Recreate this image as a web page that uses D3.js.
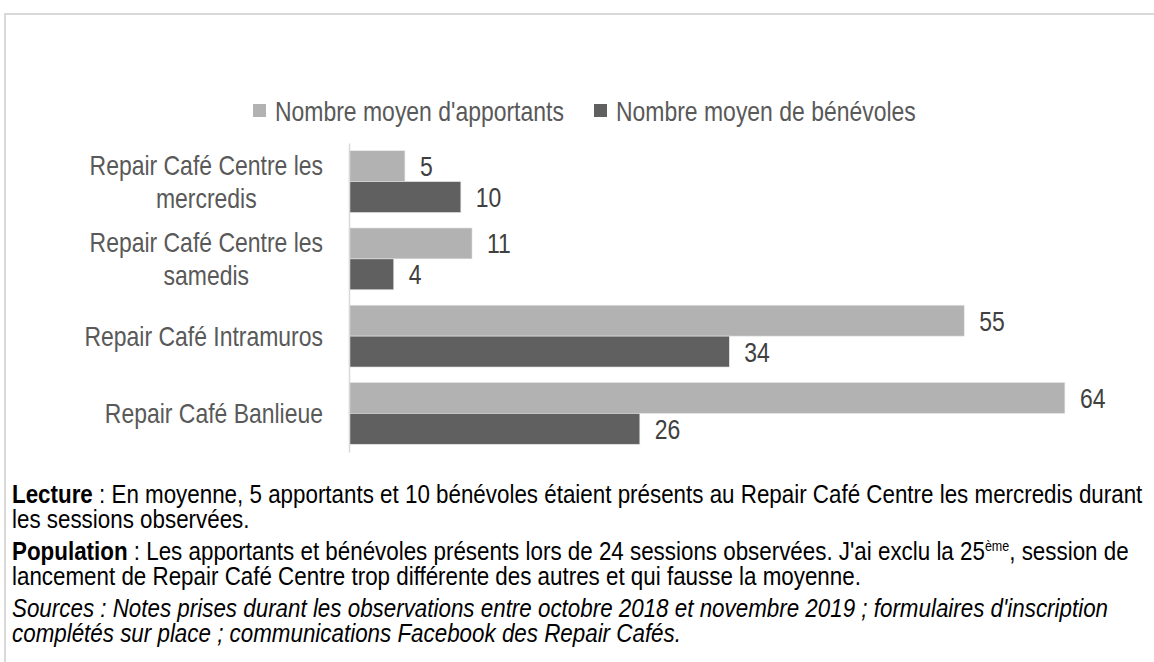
<!DOCTYPE html>
<html><head><meta charset="utf-8">
<script src="https://cdn.jsdelivr.net/npm/d3@7"></script>
<style>
html,body{margin:0;padding:0;background:#fff;}
svg{display:block;}
</style></head>
<body>
<svg id="chart" width="1154" height="662"></svg>
<script>
const categories = [
  ["Repair Café Centre les", "mercredis"],
  ["Repair Café Centre les", "samedis"],
  ["Repair Café Intramuros"],
  ["Repair Café Banlieue"]
];
const seriesNames = ["Nombre moyen d'apportants", "Nombre moyen de bénévoles"];
const apportants = [5, 11, 55, 64];
const benevoles = [10, 4, 34, 26];
const seriesColors = ["#b2b2b2", "#606060"];
const xMax = 70;

(function () {
const FONT = "'Liberation Sans',Arial,sans-serif";
const SX = 0.82;      // condensed look (Arial Narrow style)
const svg = d3.select("#chart");

function ntext(parent, px, py, sx, size, fill) {
  return parent.append("text")
    .attr("transform", `translate(${px},${py}) scale(${sx},1)`)
    .attr("font-family", FONT).attr("font-size", size).attr("fill", fill);
}

// outer frame
svg.append("rect").attr("x", 5).attr("y", 14).attr("width", 1170).attr("height", 700)
  .attr("fill", "none").attr("stroke", "#d9d9d9").attr("stroke-width", 2);

const pLeft = 349, pRight = 1132, pTop = 143, pBottom = 452;
const ids = categories.map((c, i) => i);
const y = d3.scaleBand().domain(ids).range([pTop, pBottom]).paddingInner(0.2).paddingOuter(0.1);
const y1 = d3.scaleBand().domain([0, 1]).range([0, y.bandwidth()]);
const x = d3.scaleLinear().domain([0, xMax]).range([pLeft, pRight]);

const series = [apportants, benevoles];
const g = svg.append("g");
series.forEach((vals, si) => {
  g.selectAll(".bar" + si).data(vals).enter().append("rect")
    .attr("x", x(0))
    .attr("y", (d, i) => y(i) + y1(si))
    .attr("width", d => x(d) - x(0))
    .attr("height", y1.bandwidth())
    .attr("fill", seriesColors[si])
    .attr("stroke", "#e6e6e6").attr("stroke-width", 0.6);
  vals.forEach((d, i) => {
    ntext(g, x(d) + 15, y(i) + y1(si) + y1.bandwidth() / 2 + 10, SX, 28, "#404040").text(d);
  });
});

// axis line
const yAxis = d3.axisLeft(y).tickSize(0).tickFormat("");
const ax = svg.append("g").attr("transform", `translate(${pLeft},0)`).call(yAxis);
ax.select(".domain").attr("stroke", "#d9d9d9").attr("stroke-width", 1.5);

// category labels
const labelRight = 323;
categories.forEach((lines, i) => {
  const cy = y(i) + y.bandwidth() / 2;
  const lh = 33;
  const y0 = cy + 10 - (lines.length - 1) / 2 * lh;
  const t = ntext(svg, labelRight, y0, SX, 28, "#595959");
  const spans = lines.map((ln, k) => t.append("tspan").attr("x", 0).attr("y", k * lh).text(ln));
  if (lines.length === 1) {
    t.attr("text-anchor", "end");
  } else {
    let maxW = 0;
    spans.forEach(s => { maxW = Math.max(maxW, s.node().getComputedTextLength()); });
    t.attr("text-anchor", "middle")
     .attr("transform", `translate(${labelRight - maxW * SX / 2},${y0}) scale(${SX},1)`);
  }
});

// legend
const legX = [253, 594];
seriesNames.forEach((n, i) => {
  svg.append("rect").attr("x", legX[i]).attr("y", 104).attr("width", 13).attr("height", 13).attr("fill", seriesColors[i]);
  ntext(svg, legX[i] + 22, 121, SX, 28, "#595959").text(n);
});

// footnote
const FX = 0.895;
const notes = [
  {y: 503, parts: [{t: "Lecture", w: "bold"}, {t: " : En moyenne, 5 apportants et 10 bénévoles étaient présents au Repair Café Centre les mercredis durant"}]},
  {y: 528, parts: [{t: "les sessions observées."}]},
  {y: 560, parts: [{t: "Population", w: "bold"}, {t: " : Les apportants et bénévoles présents lors de 24 sessions observées. J'ai exclu la 25"}, {t: "ème", sup: true}, {t: ", session de", after: true}]},
  {y: 585, parts: [{t: "lancement de Repair Café Centre trop différente des autres et qui fausse la moyenne."}]},
  {y: 617, parts: [{t: "Sources : Notes prises durant les observations entre octobre 2018 et novembre 2019 ; formulaires d'inscription", i: true}]},
  {y: 642, parts: [{t: "complétés sur place ; communications Facebook des Repair Cafés.", i: true}]}
];
notes.forEach(n => {
  const t = ntext(svg, 12, n.y, FX, 25, "#000");
  n.parts.forEach(p => {
    const s = t.append("tspan").text(p.t);
    if (p.w) s.attr("font-weight", p.w);
    if (p.i) s.attr("font-style", "italic");
    if (p.sup) s.attr("font-size", 14).attr("dy", -9);
    if (p.after) s.attr("dy", 9);
  });
});
})();
</script>
</body></html>
